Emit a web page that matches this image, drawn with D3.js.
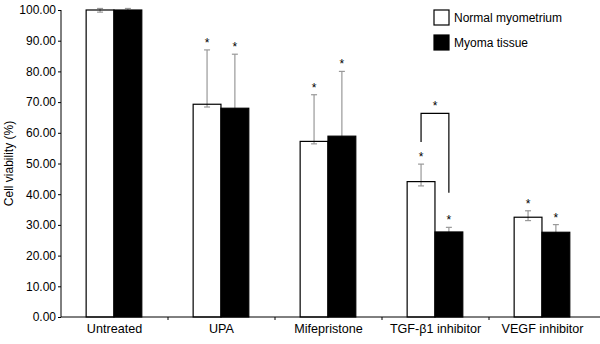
<!DOCTYPE html>
<html>
<head>
<meta charset="utf-8">
<script src="https://cdn.jsdelivr.net/npm/d3@7"></script>
<style>
body { margin: 0; background: #fff; }
svg { font-family: "Liberation Sans", Arial, sans-serif; }
</style>
</head>
<body>
<div id="chart"></div>
<script>
var categories = ["Untreated", "UPA", "Mifepristone", "TGF-\u03b21 inhibitor", "VEGF inhibitor"]
var seriesNames = ["Normal myometrium", "Myoma tissue"]
var normal = [100, 69.3, 57.2, 44.1, 32.5]
var normalErrPlus = [0.5, 17.7, 15.2, 5.7, 2.1]
var normalErrMinus = [0.7, 0.9, 0.8, 1.4, 1.1]
var myoma = [100, 68.0, 58.9, 27.7, 27.6]
var myomaErrPlus = [0.5, 17.6, 21.1, 1.5, 2.5]
var myomaErrMinus = [0.7, 1.1, 1.2, 1.0, 1.4]
var starred = [false, true, true, true, true]
var yTicks = [0, 10, 20, 30, 40, 50, 60, 70, 80, 90, 100]

var width = 600, height = 344
var margin = {top: 10, right: 4, bottom: 27, left: 61}
var innerW = width - margin.left - margin.right
var innerH = height - margin.top - margin.bottom

var svg = d3.select("#chart").append("svg")
    .attr("width", width)
    .attr("height", height)

var g = svg.append("g")
    .attr("transform", "translate(" + margin.left + "," + margin.top + ")")

var x = d3.scaleBand()
    .domain(categories)
    .range([0, innerW])

var x1 = d3.scaleBand()
    .domain([0, 1])
    .range([x.bandwidth() * 0.235, x.bandwidth() * 0.755])

var y = d3.scaleLinear()
    .domain([0, 100])
    .range([innerH, 0])

// y axis
var yAxis = g.append("g")
    .call(d3.axisLeft(y).tickValues(yTicks).tickFormat(d3.format(".2f")).tickSize(3).tickPadding(2))
yAxis.selectAll("text").style("font-size", "12px").attr("fill", "#000")
yAxis.select(".domain").attr("stroke", "#000").attr("d", "M0," + y(100) + "V" + y(0))

// x axis with ticks between groups
var xAxisG = g.append("g").attr("transform", "translate(0," + innerH + ")")
xAxisG.append("line").attr("x1", 0).attr("x2", innerW + 4).attr("stroke", "#000")
xAxisG.selectAll(".sep")
    .data(categories.slice(1))
    .enter().append("line")
    .attr("x1", function(d) { return x(d) })
    .attr("x2", function(d) { return x(d) })
    .attr("y1", 0).attr("y2", 3)
    .attr("stroke", "#000")
xAxisG.selectAll(".lbl")
    .data(categories)
    .enter().append("text")
    .attr("x", function(d) { return x(d) + x.bandwidth() / 2 })
    .attr("y", 16)
    .attr("text-anchor", "middle")
    .style("font-size", "12.6px")
    .text(function(d) { return d })

// y title
svg.append("text")
    .attr("transform", "rotate(-90)")
    .attr("x", -(margin.top + innerH / 2))
    .attr("y", 13)
    .attr("text-anchor", "middle")
    .style("font-size", "12px")
    .text("Cell viability (%)")

var rows = []
categories.forEach(function(c, i) {
    rows.push({cat: c, s: 0, v: normal[i], p: normalErrPlus[i], m: normalErrMinus[i], star: starred[i]})
    rows.push({cat: c, s: 1, v: myoma[i], p: myomaErrPlus[i], m: myomaErrMinus[i], star: starred[i]})
})

function cx(d) { return x(d.cat) + x1(d.s) + x1.bandwidth() / 2 }

// error bars
var eb = g.selectAll(".err").data(rows).enter().append("g")
eb.append("line")
    .attr("x1", cx).attr("x2", cx)
    .attr("y1", function(d) { return y(d.v - d.m) })
    .attr("y2", function(d) { return y(d.v + d.p) })
    .attr("stroke", "#999").attr("stroke-width", 1.2)
eb.append("line")
    .attr("x1", function(d) { return cx(d) - 3 }).attr("x2", function(d) { return cx(d) + 3 })
    .attr("y1", function(d) { return y(d.v + d.p) }).attr("y2", function(d) { return y(d.v + d.p) })
    .attr("stroke", "#999").attr("stroke-width", 1.2)
eb.append("line")
    .attr("x1", function(d) { return cx(d) - 3 }).attr("x2", function(d) { return cx(d) + 3 })
    .attr("y1", function(d) { return y(d.v - d.m) }).attr("y2", function(d) { return y(d.v - d.m) })
    .attr("stroke", "#999").attr("stroke-width", 1.2)

// bars
g.selectAll(".bar").data(rows).enter().append("rect")
    .attr("x", function(d) { return x(d.cat) + x1(d.s) })
    .attr("y", function(d) { return y(d.v) })
    .attr("width", x1.bandwidth())
    .attr("height", function(d) { return innerH - y(d.v) })
    .attr("fill", function(d) { return d.s == 0 ? "#fff" : "#000" })
    .attr("fill-opacity", function(d) { return d.s == 0 ? 0 : 1 })
    .attr("stroke", "#000")
    .attr("stroke-width", 1.2)

// stars
g.selectAll(".star").data(rows.filter(function(d) { return d.star })).enter().append("text")
    .attr("x", cx)
    .attr("y", function(d) { return y(d.v + d.p) - 3 })
    .attr("text-anchor", "middle")
    .style("font-size", "12px")
    .text("*")

// bracket between TGF groups
var tg = categories[3]
var bx0 = x(tg) + x1(0) + x1.bandwidth() / 2
var bx1 = x(tg) + x1(1) + x1.bandwidth() / 2
var bTop = y(66.3)
g.append("path")
    .attr("d", "M" + bx0 + "," + y(57) + "V" + bTop + "H" + bx1 + "V" + y(40.5))
    .attr("fill", "none")
    .attr("stroke", "#000")
    .attr("stroke-width", 1.2)
g.append("text")
    .attr("x", (bx0 + bx1) / 2)
    .attr("y", bTop - 3)
    .attr("text-anchor", "middle")
    .style("font-size", "12px")
    .text("*")

// legend
var legend = svg.append("g").attr("transform", "translate(434,10)")
seriesNames.forEach(function(n, i) {
    legend.append("rect")
        .attr("x", 0).attr("y", i * 25)
        .attr("width", 15).attr("height", 15)
        .attr("fill", i == 0 ? "#fff" : "#000")
        .attr("stroke", "#000").attr("stroke-width", 1.2)
    legend.append("text")
        .attr("x", 20).attr("y", i * 25 + 12)
        .style("font-size", "12px")
        .text(n)
})
</script>
</body>
</html>
